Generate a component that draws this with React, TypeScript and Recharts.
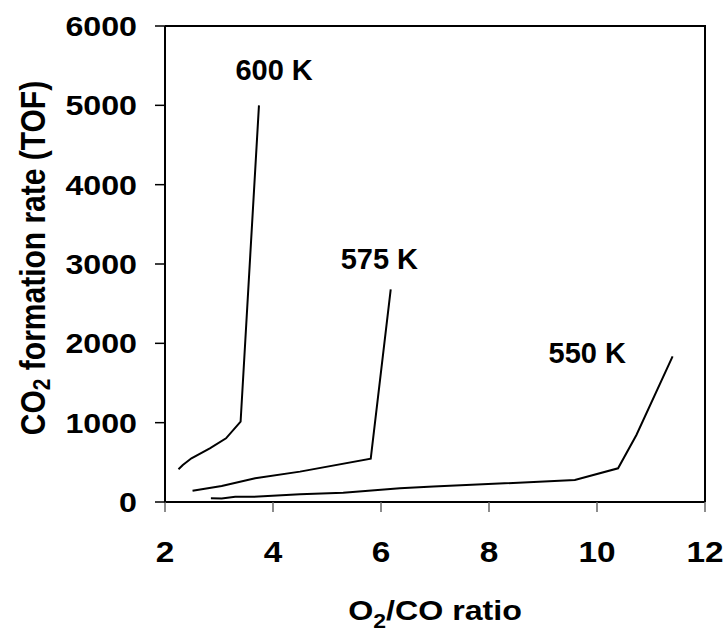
import { LineChart, Line, XAxis, YAxis, ReferenceDot } from 'recharts';

// O2/CO ratio vs CO2 formation rate
const ratio600 = [2.25, 2.33, 2.49, 2.83, 3.13, 3.4, 3.74];
const rate600 = [412, 466, 551, 677, 803, 1012, 5000];

const ratio575 = [2.51, 3.05, 3.67, 4.5, 5.81, 6.18];
const rate575 = [143, 202, 300, 383, 546, 2680];

const ratio550 = [2.85, 3.05, 3.3, 3.64, 4.5, 5.3, 6.35, 6.97, 9.59, 10.39, 10.73, 11.4];
const rate550 = [47, 45, 65, 65, 97, 118, 173, 194, 277, 425, 845, 1835];

const xTicks = [2, 4, 6, 8, 10, 12];
const yTicks = [0, 1000, 2000, 3000, 4000, 5000, 6000];

const curveLabels = ['600 K', '575 K', '550 K'];
const labelX = [4.02, 5.97, 9.82];
const labelY = [5320, 2937, 1752];

const toPoints = (xs: number[], ys: number[]) => xs.map((x, i) => ({ x, y: ys[i] }));

const series = [
  { key: '600', data: toPoints(ratio600, rate600) },
  { key: '575', data: toPoints(ratio575, rate575) },
  { key: '550', data: toPoints(ratio550, rate550) },
];

const font = '"Liberation Sans", Arial, sans-serif';
const stretch = 'scale(1.15,1)';

// plot box, matches chart margins below
const plot = { left: 165, top: 26, right: 705, bottom: 502 };

const XTick = ({ x, y, payload }: any) => (
  <g transform={`translate(${x},${y + 50})`}>
    <text transform={stretch} textAnchor="middle" fill="#000" fontFamily={font} fontWeight="bold" fontSize={29}>
      {payload.value}
    </text>
  </g>
);

const YTick = ({ x, y, payload }: any) => (
  <g transform={`translate(${x},${y})`}>
    <text transform={stretch} textAnchor="end" dy="0.36em" fill="#000" fontFamily={font} fontWeight="bold" fontSize={28}>
      {payload.value}
    </text>
  </g>
);

const CurveLabel = (text: string) => (props: any) => (
  <text x={props.cx} y={props.cy} textAnchor="middle" fill="#000" fontFamily={font} fontWeight="bold" fontSize={29}>
    {text}
  </text>
);

export default function App() {
  return (
    <div style={{ position: 'absolute', left: 0, top: 0, width: 728, height: 632 }}>
      <LineChart
        width={728}
        height={632}
        margin={{ top: plot.top, right: 728 - plot.right, left: 0, bottom: 0 }}
      >
        <XAxis
          type="number"
          dataKey="x"
          domain={[2, 12]}
          ticks={xTicks}
          allowDataOverflow
          height={632 - plot.bottom}
          axisLine={{ stroke: '#000', strokeWidth: 2 }}
          tickLine={{ stroke: '#666', strokeWidth: 1.5 }}
          tickSize={10}
          tickMargin={0}
          tick={<XTick />}
        />
        <YAxis
          type="number"
          dataKey="y"
          domain={[0, 6000]}
          ticks={yTicks}
          allowDataOverflow
          width={plot.left}
          axisLine={{ stroke: '#000', strokeWidth: 2 }}
          tickLine={{ stroke: '#000', strokeWidth: 1.5 }}
          tickSize={10}
          tickMargin={18}
          tick={<YTick />}
        />
        {series.map((s) => (
          <Line
            key={s.key}
            data={s.data}
            dataKey="y"
            type="linear"
            stroke="#000"
            strokeWidth={2}
            dot={false}
            isAnimationActive={false}
          />
        ))}
        {curveLabels.map((t, i) => (
          <ReferenceDot key={t} x={labelX[i]} y={labelY[i]} r={0} shape={CurveLabel(t)} />
        ))}
        <g transform={`translate(435,620) ${stretch}`}>
          <text x={0} y={0} textAnchor="middle" fill="#000" fontFamily={font} fontWeight="bold" fontSize={28}>
            O<tspan fontSize={20} dy={8}>2</tspan>
            <tspan dy={-8}>/CO ratio</tspan>
          </text>
        </g>
        <g transform={`translate(33,258) ${stretch} rotate(-90)`}>
          <text x={0} y={0} dy="0.35em" textAnchor="middle" fill="#000" fontFamily={font} fontWeight="bold" fontSize={30}>
            CO<tspan fontSize={21} dy={4}>2</tspan>
            <tspan dy={-4}> formation rate (TOF)</tspan>
          </text>
        </g>
      </LineChart>
      {/* top and right edges of the plot frame */}
      <div
        style={{
          position: 'absolute',
          left: plot.left,
          top: plot.top - 1,
          width: plot.right - plot.left + 1,
          height: plot.bottom - plot.top + 1,
          borderTop: '2px solid #000',
          borderRight: '2px solid #000',
          boxSizing: 'border-box',
          pointerEvents: 'none',
        }}
      />
    </div>
  );
}
